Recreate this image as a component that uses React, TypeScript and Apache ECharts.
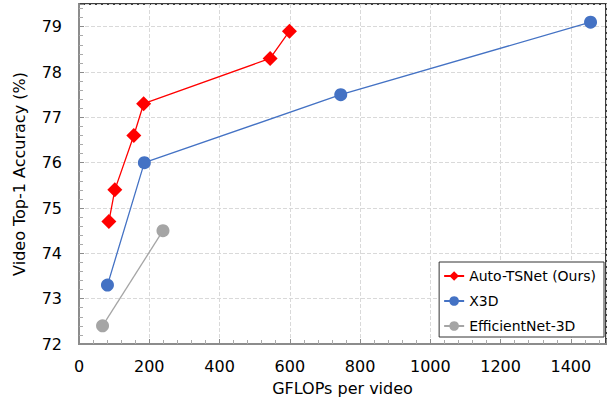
import React, { useEffect, useRef } from "react";
import * as echarts from "echarts";

const autoTSNetX = [85, 102, 156, 184, 544, 599];
const autoTSNetY = [74.7, 75.4, 76.6, 77.3, 78.3, 78.9];
const x3dX = [81, 186, 745, 1456];
const x3dY = [73.3, 76.0, 77.5, 79.1];
const effX = [67, 239];
const effY = [72.4, 74.5];
const seriesNames = ["Auto-TSNet (Ours)", "X3D", "EfficientNet-3D"];

const FONT = "DejaVu Sans";

export default function App() {
  const ref = useRef<HTMLDivElement>(null);
  useEffect(() => {
    if (!ref.current) return;
    const chart = echarts.init(ref.current, null, { renderer: "svg" });
    const pair = (xs: number[], ys: number[]) => xs.map((x, i) => [x, ys[i]]);
    const splitLine = { show: true, lineStyle: { color: "#d9d9d9", type: "dashed", width: 1 } };
    chart.setOption({
      animation: false,
      textStyle: { fontFamily: FONT },
      grid: {
        left: 79,
        top: 4,
        right: 4,
        bottom: 59,
        show: true,
        borderColor: "#000",
        borderWidth: 1.5,
      },
      legend: {
        orient: "vertical",
        right: 6,
        bottom: 66,
        backgroundColor: "#fff",
        borderColor: "#333",
        borderWidth: 1,
        borderRadius: 0,
        padding: [7, 8, 4, 4],
        itemGap: 11,
        itemWidth: 20,
        itemHeight: 12,
        textStyle: { fontFamily: FONT, fontSize: 14, color: "#000" },
        data: seriesNames,
      },
      xAxis: {
        type: "value",
        min: 0,
        max: 1500,
        interval: 200,
        name: "GFLOPs per video",
        nameLocation: "middle",
        nameGap: 36,
        nameTextStyle: { fontFamily: FONT, fontSize: 16, color: "#000" },
        axisLine: { show: true, lineStyle: { color: "#8c8c8c", width: 2 } },
        axisTick: { show: true, inside: true, length: 5, lineStyle: { color: "#8c8c8c" } },
        minorTick: { show: true, splitNumber: 5, length: 4, lineStyle: { color: "#aaa" } },
        minorSplitLine: { show: false },
        axisLabel: {
          showMaxLabel: false,
          fontFamily: FONT,
          fontSize: 16,
          color: "#000",
          margin: 14,
          formatter: (v: number) => String(v),
        },
        splitLine,
      },
      yAxis: {
        type: "value",
        min: 72,
        max: 79.5,
        interval: 1,
        name: "Video Top-1 Accuracy (%)",
        nameLocation: "middle",
        nameGap: 52,
        nameTextStyle: { fontFamily: FONT, fontSize: 16, color: "#000" },
        axisLine: { show: true, lineStyle: { color: "#8c8c8c", width: 2 } },
        axisTick: { show: true, inside: true, length: 5, lineStyle: { color: "#8c8c8c" } },
        minorTick: { show: true, splitNumber: 5, length: 4, lineStyle: { color: "#aaa" } },
        minorSplitLine: { show: false },
        axisLabel: { showMaxLabel: false, fontFamily: FONT, fontSize: 16, color: "#000", margin: 17 },
        splitLine,
      },
      series: [
        {
          name: seriesNames[0],
          type: "line",
          data: pair(autoTSNetX, autoTSNetY),
          symbol: "diamond",
          symbolSize: 15,
          itemStyle: { color: "#ff0000" },
          lineStyle: { color: "#ff0000", width: 1.3 },
          z: 5,
        },
        {
          name: seriesNames[1],
          type: "line",
          data: pair(x3dX, x3dY),
          symbol: "circle",
          symbolSize: 13,
          itemStyle: { color: "#4472c4" },
          lineStyle: { color: "#4472c4", width: 1.3 },
          z: 4,
        },
        {
          name: seriesNames[2],
          type: "line",
          data: pair(effX, effY),
          symbol: "circle",
          symbolSize: 13,
          itemStyle: { color: "#a5a5a5" },
          lineStyle: { color: "#a5a5a5", width: 1.3 },
          z: 3,
        },
      ],
    });
    return () => chart.dispose();
  }, []);
  return <div ref={ref} style={{ width: 610, height: 403, position: "absolute", left: 0, top: 0 }} />;
}
